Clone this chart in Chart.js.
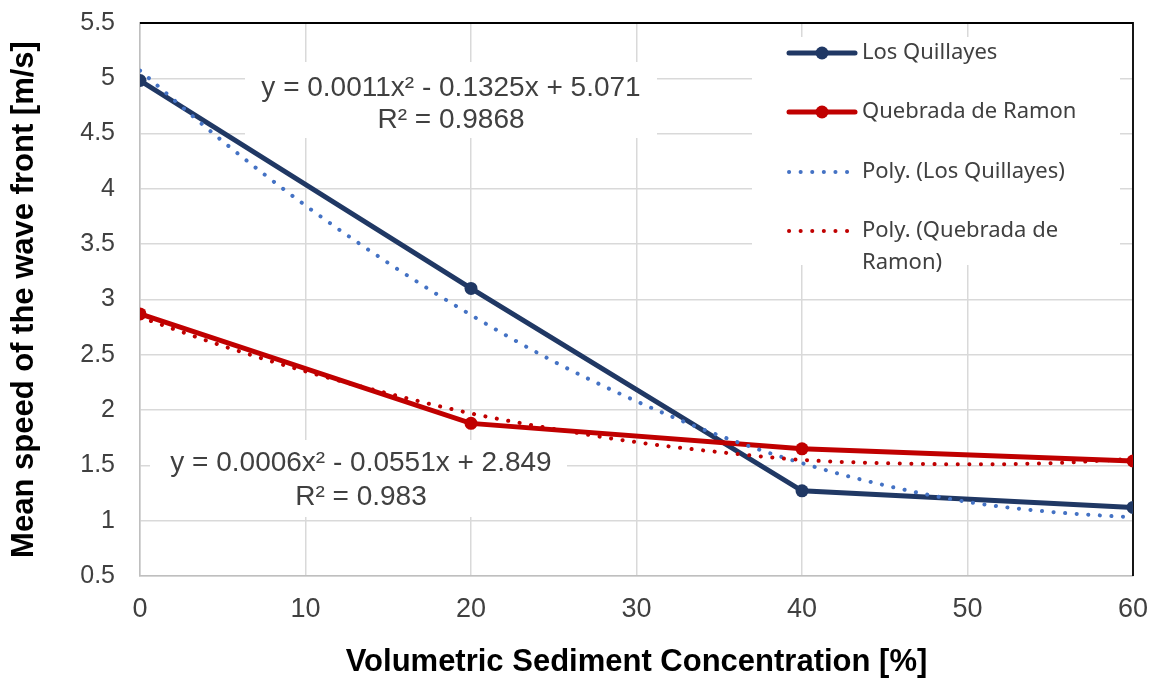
<!DOCTYPE html>
<html>
<head>
<meta charset="utf-8">
<script src="https://cdn.jsdelivr.net/npm/chart.js@4"></script>
<style>
  body { margin: 0; background: #ffffff; }
  #chart { display: block; }
</style>
</head>
<body>
<canvas id="chart" width="1156" height="683"></canvas>
<script>
// Measured series (concentration in %, speed in m/s)
const concentrations = [0, 20, 40, 60];
const losQuillayes = [4.98, 3.10, 1.27, 1.12];
const quebradaRamon = [2.87, 1.88, 1.65, 1.54];

// Trendlines
const trendX = [0, 5, 10, 15, 20, 25, 30, 35, 40, 45, 50, 55, 60];
const polyLosQuillayes = [5.07, 4.43, 3.85, 3.33, 2.86, 2.44, 2.08, 1.77, 1.52, 1.32, 1.17, 1.08, 1.03];
const polyQuebrada = [2.84, 2.58, 2.35, 2.15, 1.97, 1.83, 1.71, 1.62, 1.55, 1.52, 1.51, 1.52, 1.56];

// Tick labels
const xTicks = [0, 10, 20, 30, 40, 50, 60];
const yTicks = [0.5, 1, 1.5, 2, 2.5, 3, 3.5, 4, 4.5, 5, 5.5];

const seriesNames = ['Los Quillayes', 'Quebrada de Ramon', 'Poly. (Los Quillayes)', 'Poly. (Quebrada de Ramon)'];
const equationLQ = ['y = 0.0011x\u00B2 - 0.1325x + 5.071', 'R\u00B2 = 0.9868'];
const equationQR = ['y = 0.0006x\u00B2 - 0.0551x + 2.849', 'R\u00B2 = 0.983'];

const NAVY = '#203864';
const RED = '#C00000';
const LIGHT_BLUE = '#4472C4';
const GRID = '#d9d9d9';

const toPoints = (xs, ys) => xs.map((x, i) => ({ x: x, y: ys[i] }));

// black frame on top and right, drawn under the lines
const framePlugin = {
    id: 'frame',
    beforeDatasetsDraw(chart) {
        const { ctx, chartArea } = chart;
        ctx.save();
        ctx.strokeStyle = '#000000';
        ctx.lineWidth = 1.8;
        ctx.beginPath();
        ctx.moveTo(chartArea.left, chartArea.top);
        ctx.lineTo(chartArea.right, chartArea.top);
        ctx.lineTo(chartArea.right, chartArea.bottom);
        ctx.stroke();
        ctx.restore();
    }
};

// legend box inside the plot, Excel style
const legendPlugin = {
    id: 'insideLegend',
    beforeDatasetsDraw(chart) {
        const ctx = chart.ctx;
        ctx.save();
        ctx.fillStyle = '#ffffff';
        ctx.fillRect(752, 37, 368, 228);

        const rows = [
            { y: 53, color: NAVY, dotted: false, text: [seriesNames[0]] },
            { y: 112, color: RED, dotted: false, text: [seriesNames[1]] },
            { y: 172, color: LIGHT_BLUE, dotted: true, text: [seriesNames[2]] },
            { y: 231, color: RED, dotted: true, text: ['Poly. (Quebrada de', 'Ramon)'] }
        ];
        rows.forEach(row => {
            ctx.strokeStyle = row.color;
            ctx.lineCap = 'round';
            if (row.dotted) {
                ctx.lineWidth = 4;
                ctx.setLineDash([0.1, 11.5]);
                ctx.beginPath();
                ctx.moveTo(789, row.y);
                ctx.lineTo(852, row.y);
                ctx.stroke();
                ctx.setLineDash([]);
            } else {
                ctx.lineWidth = 5;
                ctx.beginPath();
                ctx.moveTo(789, row.y);
                ctx.lineTo(855, row.y);
                ctx.stroke();
                ctx.fillStyle = row.color;
                ctx.beginPath();
                ctx.arc(822, row.y, 6.5, 0, Math.PI * 2);
                ctx.fill();
            }
            ctx.fillStyle = '#404040';
            ctx.font = '22px "Noto Sans"';
            ctx.textBaseline = 'middle';
            ctx.textAlign = 'left';
            row.text.forEach((t, k) => ctx.fillText(t, 862, row.y + k * 32));
        });
        ctx.restore();
    }
};

// trendline equations with white label boxes
const equationPlugin = {
    id: 'equations',
    afterDatasetsDraw(chart) {
        const ctx = chart.ctx;
        const labels = [
            { box: [245, 62, 412, 76], cx: 451, ys: [88, 120], lines: equationLQ },
            { box: [150, 440, 417, 77], cx: 361, ys: [463, 497], lines: equationQR }
        ];
        ctx.save();
        labels.forEach(l => {
            ctx.fillStyle = '#ffffff';
            ctx.fillRect(l.box[0], l.box[1], l.box[2], l.box[3]);
            ctx.fillStyle = '#404040';
            ctx.font = '28px "Liberation Sans", Arial, sans-serif';
            ctx.textAlign = 'center';
            ctx.textBaseline = 'middle';
            l.lines.forEach((t, k) => ctx.fillText(t, l.cx, l.ys[k]));
        });
        ctx.restore();
    }
};

const ctx = document.getElementById('chart').getContext('2d');
new Chart(ctx, {
    type: 'line',
    data: {
        datasets: [
            {
                label: seriesNames[0],
                data: toPoints(concentrations, losQuillayes),
                borderColor: NAVY,
                backgroundColor: NAVY,
                borderWidth: 5,
                pointRadius: 6.5,
                pointBorderWidth: 0,
                tension: 0,
                order: 4
            },
            {
                label: seriesNames[1],
                data: toPoints(concentrations, quebradaRamon),
                borderColor: RED,
                backgroundColor: RED,
                borderWidth: 5,
                pointRadius: 6.5,
                pointBorderWidth: 0,
                tension: 0,
                order: 3
            },
            {
                label: seriesNames[2],
                data: toPoints(trendX, polyLosQuillayes),
                borderColor: LIGHT_BLUE,
                borderWidth: 4,
                borderDash: [0.1, 11.5],
                borderCapStyle: 'round',
                pointRadius: 0,
                cubicInterpolationMode: 'monotone',
                order: 2
            },
            {
                label: seriesNames[3],
                data: toPoints(trendX, polyQuebrada),
                borderColor: RED,
                borderWidth: 4,
                borderDash: [0.1, 11.5],
                borderCapStyle: 'round',
                pointRadius: 0,
                cubicInterpolationMode: 'monotone',
                order: 1
            }
        ]
    },
    options: {
        responsive: false,
        animation: false,
        layout: {
            padding: { top: 23, right: 23, left: 0, bottom: 0 }
        },
        plugins: {
            legend: { display: false },
            tooltip: { enabled: false },
            title: { display: false }
        },
        scales: {
            x: {
                type: 'linear',
                min: 0,
                max: 60,
                afterBuildTicks: scale => { scale.ticks = xTicks.map(v => ({ value: v })); },
                afterFit: scale => {
                    scale.height = 107;
                    scale.paddingLeft = 0;
                    scale.paddingRight = 0;
                },
                grid: { color: GRID, lineWidth: 1.5, drawTicks: false },
                border: { color: '#bfbfbf', width: 1.5 },
                ticks: {
                    color: '#404040',
                    padding: 17,
                    maxRotation: 0,
                    font: { family: '"Liberation Sans", Arial, sans-serif', size: 27 },
                    callback: v => String(v)
                },
                title: {
                    display: true,
                    text: 'Volumetric Sediment Concentration [%]',
                    color: '#000000',
                    padding: { top: 4, bottom: 2 },
                    font: { family: '"Liberation Sans", Arial, sans-serif', size: 31, weight: 'bold' }
                }
            },
            y: {
                type: 'linear',
                min: 0.5,
                max: 5.5,
                afterBuildTicks: scale => { scale.ticks = yTicks.map(v => ({ value: v })); },
                afterFit: scale => {
                    scale.width = 140;
                    scale.paddingTop = 0;
                    scale.paddingBottom = 0;
                },
                grid: { color: GRID, lineWidth: 1.5, drawTicks: false },
                border: { color: '#bfbfbf', width: 1.5 },
                ticks: {
                    color: '#404040',
                    padding: 25,
                    font: { family: '"Liberation Sans", Arial, sans-serif', size: 25 },
                    callback: v => String(v)
                },
                title: {
                    display: true,
                    text: 'Mean speed of the wave front [m/s]',
                    color: '#000000',
                    padding: { top: 6, bottom: 0 },
                    font: { family: '"Liberation Sans", Arial, sans-serif', size: 31, weight: 'bold' }
                }
            }
        }
    },
    plugins: [framePlugin, legendPlugin, equationPlugin]
});
</script>
</body>
</html>
